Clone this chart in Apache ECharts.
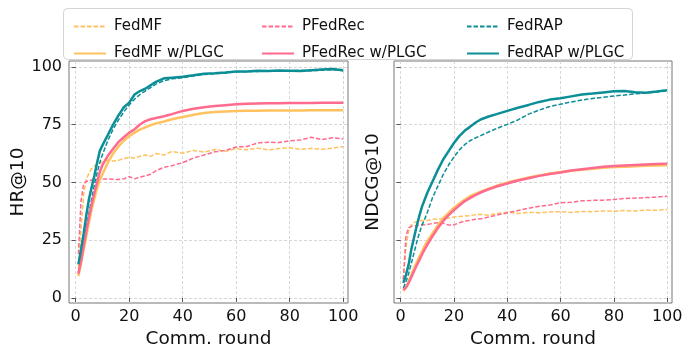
<!DOCTYPE html>
<html>
<head>
<meta charset="utf-8">
<script src="https://cdn.jsdelivr.net/npm/echarts@6.0.0/dist/echarts.min.js"></script>
<style>
  html, body { margin: 0; padding: 0; background: #fff; }
  #chart { width: 697px; height: 346px; }
</style>
</head>
<body>
<div id="chart"></div>
<script>
// communication rounds sampled from the curves
const rounds = [1, 2, 3, 4, 5, 6, 7, 8, 9, 10, 12, 14, 16, 18, 20, 22, 24, 26, 28, 30, 33, 36,
  40, 44, 48, 52, 56, 60, 64, 68, 72, 76, 80, 84, 88, 92, 96, 100];
const xTicks = [0, 20, 40, 60, 80, 100];
const yTicks = [0, 25, 50, 75, 100];

// HR@10
const hrFedMF = [13, 30, 45, 51.5, 54, 56, 57, 58, 58.3, 58.8, 59.7, 59.2, 59.5, 60.3, 60.8, 60.5, 61.3, 61.8, 61.2, 62.5, 61.8, 63.4,
  62.6, 63.8, 63.1, 64.2, 63.4, 64.6, 64.1, 64.8, 64, 64.6, 65, 64.3, 64.7, 64.3, 64.8, 65.4];
const hrFedMFPLGC = [9.5, 15, 21, 27, 33, 38.5, 43, 47.5, 51, 53.5, 58.5, 62.5, 65.5, 68, 70, 71.5, 72.8, 73.8, 74.7, 75.5, 76.3, 77.3,
  78.3, 79.2, 80, 80.4, 80.7, 80.9, 81, 81, 81.1, 81.1, 81.1, 81.1, 81.2, 81.2, 81.2, 81.2];
const hrPFedRec = [19, 42, 49.5, 50.5, 50.5, 51, 51, 51.3, 51.2, 51.5, 51.5, 51.3, 51.2, 51.5, 52.5, 51.5, 52.3, 52.8, 53.5, 55, 56.5, 57.2,
  58.5, 60.5, 61.8, 63.2, 63.8, 65.3, 65.5, 67, 67.4, 67.2, 68, 68.3, 69.5, 68.5, 69.3, 68.8];
const hrPFedRecPLGC = [10.5, 16, 22.5, 29, 35, 40.5, 45.5, 50, 54.5, 57.5, 61.5, 64.5, 67.5, 69.5, 71.5, 73, 75, 76.5, 77.3, 77.8, 78.6, 79.5,
  80.9, 81.8, 82.5, 83, 83.4, 83.8, 84, 84.1, 84.2, 84.2, 84.3, 84.3, 84.3, 84.4, 84.4, 84.4];
const hrFedRAP = [11, 17, 24, 31, 37, 43, 49, 54, 58.5, 62, 68, 73, 77, 80.5, 83.5, 86, 88, 89.5, 91, 92.5, 94, 94.8,
  95.3, 96, 96.7, 97, 97.3, 97.8, 97.9, 98, 98.2, 98.1, 98.3, 98.4, 98.3, 98.5, 98.8, 98.3];
const hrFedRAPPLGC = [14.5, 21, 28, 36, 43, 48, 53, 58.5, 63.5, 66, 70.5, 75, 79, 82.5, 84.5, 88, 89.5, 90.5, 92, 93.5, 95, 95.3,
  95.7, 96.3, 97, 97.2, 97.5, 98, 98, 98.3, 98.2, 98.4, 98.3, 98.2, 98.5, 98.8, 99, 98.5];

// NDCG@10
const ndcgFedMF = [8, 22, 29, 31.5, 32.5, 33, 33.3, 33.5, 33.3, 33.5, 34, 34.2, 34.4, 34.5, 35, 35.2, 35.4, 35.6, 36, 36.2, 35.8, 36.5,
  37.1, 36.5, 37, 36.8, 37.2, 37.3, 37, 37.4, 37.3, 37.6, 37.5, 37.8, 37.6, 38, 37.9, 38.3];
const ndcgFedMFPLGC = [3, 4.5, 7, 10, 12.8, 15.3, 17.8, 20, 22.5, 24.5, 28, 31.5, 34.5, 36.8, 39, 40.8, 42.5, 44, 45, 46, 47.3, 48.5,
  49.9, 51, 52.1, 53, 53.8, 54.5, 55, 55.4, 55.9, 56.3, 56.6, 56.8, 57, 57.2, 57.3, 57.4];
const ndcgPFedRec = [8, 27, 30.3, 31, 31.2, 31.3, 31.5, 31.8, 31.6, 31.8, 32.2, 32.5, 32.3, 31.5, 31.6, 32.5, 33.2, 33.5, 34, 34.2, 35, 35.8,
  36.8, 37.8, 38.8, 39.7, 40.2, 41.2, 41.4, 42, 42.2, 42.3, 42.6, 43, 43.2, 43.4, 43.6, 44];
const ndcgPFedRecPLGC = [3.5, 4.5, 6.5, 9, 11.5, 14, 16.3, 18.8, 21, 23, 26.8, 30.3, 33.3, 35.8, 38, 40, 41.8, 43.2, 44.5, 45.6, 47, 48.2,
  49.5, 50.8, 51.8, 52.8, 53.6, 54.3, 55.1, 55.7, 56.2, 56.7, 57.1, 57.3, 57.5, 57.7, 57.9, 58.1];
const ndcgFedRAP = [4.3, 7, 10.5, 15, 19.5, 24, 28, 31.5, 34, 37, 43.5, 48.5, 53.5, 57.5, 61, 64, 66.3, 68, 69.2, 70.2, 71.8, 73.3,
  75.1, 77, 79.5, 81.3, 82.8, 83.8, 84.8, 85.6, 86.3, 86.8, 87.4, 87.8, 88.3, 88.7, 89.1, 89.6];
const ndcgFedRAPPLGC = [6.5, 10, 14.5, 21, 26, 31, 35.5, 39.5, 42.5, 45.5, 50.5, 55.5, 60, 63.5, 67, 70, 72.3, 74, 75.8, 77.2, 78.5, 79.5,
  80.9, 82.3, 83.5, 84.8, 85.8, 86.4, 87.2, 88, 88.4, 88.9, 89.4, 89.5, 89, 88.8, 89.3, 89.9];

const ORANGE = '#FFC25E';
const PINK = '#FF6B8E';
const TEAL = '#0B8E96';
const FONT = 'DejaVu Sans';

const pairs = (ys) => rounds.map((r, i) => [r, ys[i]]);

// one line series; dashed = baseline, solid = w/PLGC
const line = (name, color, dashed, ys, idx) => ({
  name,
  type: 'line',
  xAxisIndex: idx,
  yAxisIndex: idx,
  data: pairs(ys),
  showSymbol: false,
  symbol: 'none',
  smooth: false,
  lineStyle: dashed
    ? { color, width: 1.5, type: [4.5, 2] }
    : { color, width: 2.5 },
  itemStyle: { color },
  z: dashed ? 3 : 4,
});

const xAxis = (idx) => ({
  type: 'value',
  gridIndex: idx,
  min: -2.5,
  max: 101.8,
  name: 'Comm. round',
  nameLocation: 'middle',
  nameGap: 17,
  nameTextStyle: { fontSize: 18.5, color: '#111', fontFamily: FONT },
  axisLine: { show: false },
  axisTick: { show: true, customValues: xTicks, length: 4, lineStyle: { color: '#555' } },
  axisLabel: { customValues: xTicks, fontSize: 16, color: '#111', fontFamily: FONT, margin: 6 },
  splitLine: { show: true, lineStyle: { color: '#cdcdcd', width: 0.8, type: [3, 2] } },
});

const yAxis = (idx, name, showLabel, nameGap) => ({
  type: 'value',
  gridIndex: idx,
  min: -2.2,
  max: 102.5,
  name,
  nameLocation: 'middle',
  nameGap,
  nameTextStyle: { fontSize: 18.5, color: '#111', fontFamily: FONT },
  axisLine: { show: false },
  axisTick: { show: true, customValues: yTicks, length: 4, lineStyle: { color: '#555' } },
  axisLabel: { show: showLabel, customValues: yTicks, fontSize: 16, color: '#111', fontFamily: FONT, margin: 7 },
  splitLine: { show: true, lineStyle: { color: '#cdcdcd', width: 0.8, type: [3, 2] } },
});

// legend icon: line only, hide the symbol dot
const legendBase = {
  orient: 'vertical',
  top: 14,
  itemWidth: 32,
  itemHeight: 14,
  itemGap: 12,
  itemStyle: { opacity: 0 },
  textStyle: { fontSize: 15, color: '#111', fontFamily: FONT, padding: [0, 0, 0, 3] },
  z: 12,
};

const chart = echarts.init(document.getElementById('chart'), null, { renderer: 'canvas' });
chart.setOption({
  animation: false,
  backgroundColor: '#fff',
  textStyle: { fontFamily: FONT },
  grid: [
    { left: 69, right: 349, top: 61, bottom: 43, outerBoundsMode: 'none', show: true, borderColor: '#777', borderWidth: 1, backgroundColor: 'transparent' },
    { left: 394, right: 25, top: 61, bottom: 43, outerBoundsMode: 'none', show: true, borderColor: '#777', borderWidth: 1, backgroundColor: 'transparent' },
  ],
  xAxis: [xAxis(0), xAxis(1)],
  yAxis: [yAxis(0, 'HR@10', true, 38), yAxis(1, 'NDCG@10', false, 11)],
  graphic: [{
    type: 'rect',
    left: 63,
    top: 8,
    z: 10,
    shape: { width: 569, height: 51, r: 4 },
    style: { fill: 'rgba(255,255,255,0.85)', stroke: '#d4d4d4', lineWidth: 1 },
  }],
  legend: [
    { ...legendBase, left: 68, data: ['FedMF', 'FedMF w/PLGC'] },
    { ...legendBase, left: 256, data: ['PFedRec', 'PFedRec w/PLGC'] },
    { ...legendBase, left: 461, data: ['FedRAP', 'FedRAP w/PLGC'] },
  ],
  series: [
    line('FedMF', ORANGE, true, hrFedMF, 0),
    line('FedMF w/PLGC', ORANGE, false, hrFedMFPLGC, 0),
    line('PFedRec', PINK, true, hrPFedRec, 0),
    line('PFedRec w/PLGC', PINK, false, hrPFedRecPLGC, 0),
    line('FedRAP', TEAL, true, hrFedRAP, 0),
    line('FedRAP w/PLGC', TEAL, false, hrFedRAPPLGC, 0),
    line('FedMF', ORANGE, true, ndcgFedMF, 1),
    line('FedMF w/PLGC', ORANGE, false, ndcgFedMFPLGC, 1),
    line('PFedRec', PINK, true, ndcgPFedRec, 1),
    line('PFedRec w/PLGC', PINK, false, ndcgPFedRecPLGC, 1),
    line('FedRAP', TEAL, true, ndcgFedRAP, 1),
    line('FedRAP w/PLGC', TEAL, false, ndcgFedRAPPLGC, 1),
  ],
});
</script>
</body>
</html>
